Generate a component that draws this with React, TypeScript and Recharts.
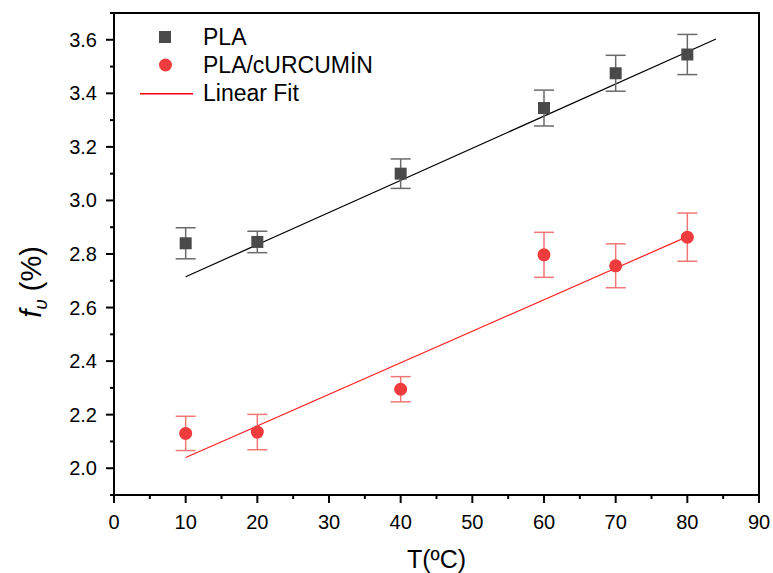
import React from "react";
import {
  ComposedChart,
  Scatter,
  Line,
  XAxis,
  YAxis,
  ErrorBar,
  ReferenceArea,
  Legend,
} from "recharts";

const temps = [10, 20, 40, 60, 70, 80];
const plaValues = [2.84, 2.845, 3.1, 3.345, 3.475, 3.545];
const plaErrors = [0.058, 0.04, 0.055, 0.067, 0.067, 0.075];
const curcuminValues = [2.13, 2.135, 2.295, 2.797, 2.756, 2.863];
const curcuminErrors = [0.064, 0.066, 0.047, 0.084, 0.082, 0.09];

const plaFitX = [10, 84];
const plaFitY = [2.715, 3.603];
const curcuminFitX = [10, 80];
const curcuminFitY = [2.04, 2.865];

const xTicks = [0, 5, 10, 15, 20, 25, 30, 35, 40, 45, 50, 55, 60, 65, 70, 75, 80, 85, 90];
const yTicks = [1.9, 2.0, 2.1, 2.2, 2.3, 2.4, 2.5, 2.6, 2.7, 2.8, 2.9, 3.0, 3.1, 3.2, 3.3, 3.4, 3.5, 3.6, 3.7];

const FONT = "'Liberation Sans', Arial, sans-serif";

const plaData = temps.map((t, i) => ({ x: t, y: plaValues[i], err: plaErrors[i] }));
const curcuminData = temps.map((t, i) => ({ x: t, y: curcuminValues[i], err: curcuminErrors[i] }));
const plaFit = plaFitX.map((x, i) => ({ x, y: plaFitY[i] }));
const curcuminFit = curcuminFitX.map((x, i) => ({ x, y: curcuminFitY[i] }));

const XTick = (props: any) => {
  const { x, y, payload } = props;
  const major = payload.value % 10 === 0;
  return (
    <g>
      <line x1={x} x2={x} y1={y} y2={y + (major ? 8 : 4)} stroke="#000" strokeWidth={2} />
      {major && (
        <text x={x} y={y + 34} textAnchor="middle" fontSize={20} fontFamily={FONT} fill="#000">
          {payload.value}
        </text>
      )}
    </g>
  );
};

const YTick = (props: any) => {
  const { x, y, payload } = props;
  const major = Math.round(payload.value * 10) % 2 === 0;
  return (
    <g>
      <line x1={x} x2={x - (major ? 8 : 4)} y1={y} y2={y} stroke="#000" strokeWidth={2} />
      {major && (
        <text x={x - 17} y={y + 7} textAnchor="end" fontSize={20} fontFamily={FONT} fill="#000">
          {payload.value.toFixed(1)}
        </text>
      )}
    </g>
  );
};

const SquareDot = (props: any) => (
  <rect x={props.cx - 6} y={props.cy - 6} width={12} height={12} fill="#4a4a4a" />
);

const RoundDot = (props: any) => <circle cx={props.cx} cy={props.cy} r={6.5} fill="#f03c3c" />;

const LegendBox = () => {
  const text = {
    position: "absolute" as const,
    left: 73,
    lineHeight: "28px",
    fontSize: 23,
    fontFamily: FONT,
    color: "#000",
    whiteSpace: "nowrap" as const,
  };
  return (
    <div style={{ position: "relative", width: 320, height: 90 }}>
      <svg width={70} height={90} style={{ position: "absolute", left: 0, top: 0 }}>
        <rect x={29} y={8} width={12} height={12} fill="#4a4a4a" />
        <circle cx={35.5} cy={42} r={6.5} fill="#f03c3c" />
        <rect x={10} y={70} width={53} height={1.5} fill="#ff0000" />
      </svg>
      <span style={{ ...text, top: 0 }}>PLA</span>
      <span style={{ ...text, top: 28 }}>PLA/cURCUMİN</span>
      <span style={{ ...text, top: 56 }}>Linear Fit</span>
    </div>
  );
};

export default function App() {
  return (
    <div style={{ position: "absolute", left: 0, top: 0, background: "#fff" }}>
      <ComposedChart width={773} height={573} margin={{ top: 13, right: 14, bottom: 0, left: 0 }}>
        <ReferenceArea x1={0} x2={90} y1={1.9} y2={3.7} fill="none" stroke="#000" strokeWidth={2} />
        <XAxis
          dataKey="x"
          type="number"
          domain={[0, 90]}
          ticks={xTicks}
          interval={0}
          height={78}
          tickSize={0}
          tickMargin={0}
          tickLine={false}
          axisLine={{ stroke: "#000", strokeWidth: 2 }}
          tick={<XTick />}
          label={{
            content: (p: any) => (
              <text
                x={p.viewBox.x + p.viewBox.width / 2}
                y={568}
                textAnchor="middle"
                fontSize={25}
                fontFamily={FONT}
                fill="#000"
              >
                T(ºC)
              </text>
            ),
          }}
        />
        <YAxis
          type="number"
          domain={[1.9, 3.7]}
          ticks={yTicks}
          interval={0}
          width={114}
          tickSize={0}
          tickMargin={0}
          tickLine={false}
          axisLine={{ stroke: "#000", strokeWidth: 2 }}
          tick={<YTick />}
          label={{
            content: () => (
              <text
                x={41}
                y={282}
                transform="rotate(-90, 41, 282)"
                textAnchor="middle"
                fontSize={29}
                fontFamily={FONT}
                fill="#000"
              >
                <tspan fontStyle="italic">f</tspan>
                <tspan fontStyle="italic" fontSize={19} dy={6}>
                  υ
                </tspan>
                <tspan dy={-6}> (%)</tspan>
              </text>
            ),
          }}
        />
        <Legend
          layout="vertical"
          align="center"
          verticalAlign="middle"
          wrapperStyle={{ left: 130, top: 23, width: 320, height: 90 }}
          content={<LegendBox />}
        />
        <Line
          data={plaFit}
          dataKey="y"
          type="linear"
          stroke="#000"
          strokeWidth={1.2}
          dot={false}
          activeDot={false}
          isAnimationActive={false}
        />
        <Line
          data={curcuminFit}
          dataKey="y"
          type="linear"
          stroke="#ff2020"
          strokeWidth={1.2}
          dot={false}
          activeDot={false}
          isAnimationActive={false}
        />
        <Scatter data={plaData} dataKey="y" shape={<SquareDot />} isAnimationActive={false}>
          <ErrorBar dataKey="err" direction="y" width={10} stroke="#6a6a6a" strokeWidth={1.5} />
        </Scatter>
        <Scatter data={curcuminData} dataKey="y" shape={<RoundDot />} isAnimationActive={false}>
          <ErrorBar dataKey="err" direction="y" width={10} stroke="#f07878" strokeWidth={1.5} />
        </Scatter>
      </ComposedChart>
    </div>
  );
}
